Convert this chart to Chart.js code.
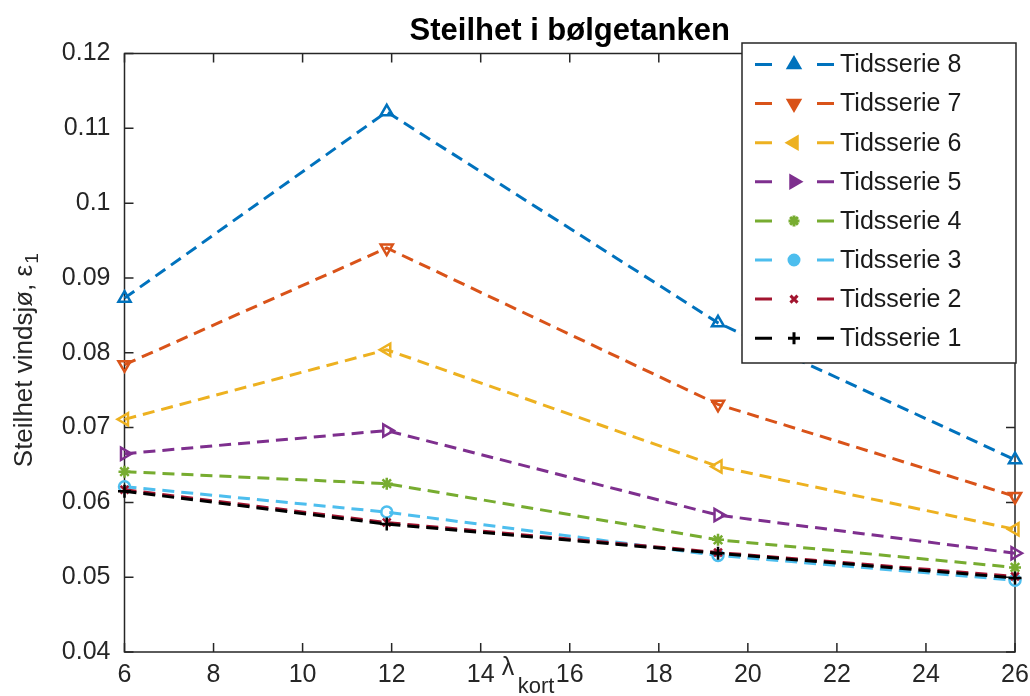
<!DOCTYPE html>
<html>
<head>
<meta charset="utf-8">
<script src="https://cdn.jsdelivr.net/npm/chart.js@4/dist/chart.umd.min.js"></script>
<style>
  html, body { margin: 0; padding: 0; background: #fff; overflow: hidden; }
  canvas { display: block; }
</style>
</head>
<body>
<canvas id="steilhet" width="1030" height="696"></canvas>
<script>
// bølgelengde (x) og steilhet per tidsserie
const lambdaKort = [6, 11.89, 19.33, 26];

const serie1 = [0.0615, 0.0571, 0.0532, 0.0499];
const serie2 = [0.0617, 0.0573, 0.0533, 0.0501];
const serie3 = [0.0621, 0.0587, 0.0529, 0.0496];
const serie4 = [0.0641, 0.0625, 0.0550, 0.0513];
const serie5 = [0.0665, 0.0696, 0.0583, 0.0532];
const serie6 = [0.0711, 0.0804, 0.0648, 0.0564];
const serie7 = [0.0784, 0.0940, 0.0731, 0.0608];
const serie8 = [0.0873, 0.1122, 0.0840, 0.0657];

const labels = ["Tidsserie 1", "Tidsserie 2", "Tidsserie 3", "Tidsserie 4",
                "Tidsserie 5", "Tidsserie 6", "Tidsserie 7", "Tidsserie 8"];
const serier = [serie1, serie2, serie3, serie4, serie5, serie6, serie7, serie8];

const xTicks = [6, 8, 10, 12, 14, 16, 18, 20, 22, 24, 26];
const yTicks = [0.04, 0.05, 0.06, 0.07, 0.08, 0.09, 0.1, 0.11, 0.12];

// matlab-farger og markører
const farger = ["#000000", "#A2142F", "#4DBEEE", "#77AC30", "#7E2F8E", "#EDB120", "#D95319", "#0072BD"];
const markorer = [
  { style: "cross", rot: 0, r: 6.5 },
  { style: "crossRot", rot: 0, r: 5.5 },
  { style: "circle", rot: 0, r: 5.5 },
  { style: "star", rot: 0, r: 6 },
  { style: "triangle", rot: 90, r: 7 },
  { style: "triangle", rot: 270, r: 7 },
  { style: "triangle", rot: 180, r: 7 },
  { style: "triangle", rot: 0, r: 7 }
];

const FONT = "'Liberation Sans', Arial, Helvetica, sans-serif";
const AXIS = "#262626";

const datasets = serier.map((s, i) => ({
  label: labels[i],
  data: s.map((v, j) => ({ x: lambdaKort[j], y: v })),
  borderColor: farger[i],
  backgroundColor: farger[i],
  borderWidth: 3,
  borderDash: [12, 7],
  pointStyle: markorer[i].style,
  pointRotation: markorer[i].rot,
  pointRadius: markorer[i].r,
  pointBorderWidth: 2.5,
  pointBorderColor: farger[i],
  pointBackgroundColor: "rgba(0,0,0,0)",
  tension: 0,
  clip: false
}));

// ramme med innovervendte ticks på alle sider
const ramme = {
  id: "ramme",
  beforeDatasetsDraw(chart) {
    const { ctx, chartArea: a, scales: { x, y } } = chart;
    ctx.save();
    ctx.strokeStyle = AXIS;
    ctx.lineWidth = 1.5;
    ctx.beginPath();
    x.ticks.forEach(t => {
      const px = x.getPixelForValue(t.value);
      ctx.moveTo(px, a.bottom); ctx.lineTo(px, a.bottom - 9);
      ctx.moveTo(px, a.top); ctx.lineTo(px, a.top + 9);
    });
    y.ticks.forEach(t => {
      const py = y.getPixelForValue(t.value);
      ctx.moveTo(a.left, py); ctx.lineTo(a.left + 9, py);
      ctx.moveTo(a.right, py); ctx.lineTo(a.right - 9, py);
    });
    ctx.stroke();
    ctx.strokeRect(a.left, a.top, a.right - a.left, a.bottom - a.top);
    ctx.restore();
  },
  afterDraw(chart) {
    const { ctx, chartArea: a } = chart;
    ctx.save();
    // tittel
    ctx.fillStyle = "#000";
    ctx.font = "bold 31px " + FONT;
    ctx.textAlign = "center";
    ctx.textBaseline = "middle";
    ctx.fillText("Steilhet i bølgetanken", (a.left + a.right) / 2, 31);

    // x-akse: lambda_kort
    ctx.fillStyle = AXIS;
    ctx.textAlign = "left";
    ctx.textBaseline = "alphabetic";
    ctx.font = "25px " + FONT;
    const lx = (a.left + a.right) / 2 - 68;
    ctx.fillText("λ", lx, 675);
    ctx.font = "22px " + FONT;
    ctx.fillText("kort", lx + 16, 693);

    // y-akse: Steilhet vindsjø, ε1
    ctx.save();
    ctx.translate(32, (a.top + a.bottom) / 2 + 8);
    ctx.rotate(-Math.PI / 2);
    ctx.font = "26px " + FONT;
    const hoved = "Steilhet vindsjø, ε";
    const w = ctx.measureText(hoved).width;
    ctx.font = "19px " + FONT;
    const ws = ctx.measureText("1").width;
    const x0 = -(w + ws) / 2;
    ctx.font = "26px " + FONT;
    ctx.fillText(hoved, x0, 0);
    ctx.font = "19px " + FONT;
    ctx.fillText("1", x0 + w + 1, 6);
    ctx.restore();

    // tegnforklaring, serie 8 øverst
    const bx = 742, by = 43, bw = 274, bh = 320;
    ctx.fillStyle = "#fff";
    ctx.fillRect(bx, by, bw, bh);
    ctx.strokeStyle = AXIS;
    ctx.lineWidth = 1.5;
    ctx.strokeRect(bx, by, bw, bh);
    ctx.font = "25px " + FONT;
    ctx.textBaseline = "middle";
    for (let k = 0; k < 8; k++) {
      const i = 7 - k;
      const ry = by + 21.5 + k * 39.1;
      ctx.strokeStyle = farger[i];
      ctx.lineWidth = 3;
      ctx.setLineDash([17, 45]);
      ctx.beginPath();
      ctx.moveTo(755, ry);
      ctx.lineTo(834, ry);
      ctx.stroke();
      ctx.setLineDash([]);
      ctx.fillStyle = farger[i];
      Chart.helpers.drawPoint(ctx, {
        pointStyle: markorer[i].style,
        rotation: markorer[i].rot,
        radius: markorer[i].r - 0.5,
        borderWidth: 3.5
      }, 794, ry);
      ctx.fillStyle = "#1a1a1a";
      ctx.fillText(labels[i], 840, ry + 1);
    }
    ctx.restore();
  }
};

const config = {
  type: "line",
  data: { datasets: datasets },
  options: {
    responsive: false,
    animation: false,
    layout: { padding: { left: 0, right: 15, top: 53.5, bottom: 0 } },
    plugins: {
      legend: { display: false },
      title: { display: false },
      tooltip: { enabled: false }
    },
    scales: {
      x: {
        type: "linear",
        min: 6,
        max: 26,
        afterBuildTicks: s => { s.ticks = xTicks.map(v => ({ value: v })); },
        afterFit: s => { s.height = 44; s.paddingLeft = 0; s.paddingRight = 0; },
        grid: { display: false, drawTicks: false },
        border: { display: false },
        ticks: { color: AXIS, font: { family: FONT, size: 25 }, padding: 8, maxRotation: 0 }
      },
      y: {
        min: 0.04,
        max: 0.12,
        afterBuildTicks: s => { s.ticks = yTicks.map(v => ({ value: v })); },
        afterFit: s => { s.width = 124.5; s.paddingTop = 0; s.paddingBottom = 0; },
        grid: { display: false, drawTicks: false },
        border: { display: false },
        ticks: {
          color: AXIS,
          font: { family: FONT, size: 25 },
          padding: 14,
          callback: v => String(+v.toFixed(2))
        }
      }
    }
  },
  plugins: [ramme]
};

let steilhetChart = new Chart(document.getElementById("steilhet"), config);
</script>
</body>
</html>
